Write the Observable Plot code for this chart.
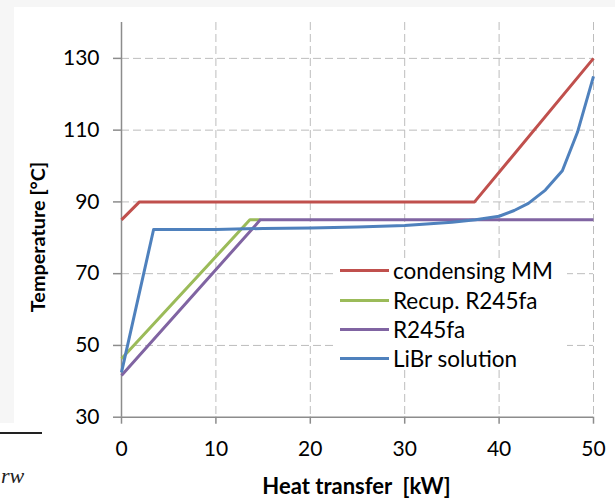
<!DOCTYPE html>
<html><head><meta charset="utf-8">
<script src="https://cdn.jsdelivr.net/npm/d3@7"></script>
<script src="https://cdn.jsdelivr.net/npm/@observablehq/plot@0.6"></script>
<style>
body{margin:0;background:#fff;}
#wrap{position:relative;width:615px;height:498px;overflow:hidden;font-family:Lato,sans-serif;color:#000;}
.bg-top{position:absolute;left:0;top:0;width:615px;height:7px;background:#f6f6f6;}
.bg-left{position:absolute;left:0;top:0;width:14px;height:423px;background:#f6f6f6;}
.hr{position:absolute;left:0;top:432px;width:42px;height:2px;background:#222;}
.frag{position:absolute;left:1px;top:463px;font:italic 22px "Liberation Serif",serif;color:#222;}
#chart{position:absolute;left:0;top:0;}
#chart svg [aria-label$="tick"]{stroke:#8c8c8c;stroke-width:1.5px;}
.legend{position:absolute;left:337px;top:258px;width:230px;height:108px;background:#fff;}
.row{position:absolute;left:3px;height:29px;display:flex;align-items:center;font-size:22.5px;white-space:nowrap;}
.sw{width:49px;height:3px;margin-right:4px;}
.xtitle{position:absolute;left:0;width:713px;text-align:center;top:472px;font-weight:bold;font-size:22px;white-space:pre;}
.ytitle{position:absolute;left:-113px;top:224px;width:300px;height:26px;line-height:26px;text-align:center;transform:rotate(-90deg);transform-origin:50% 50%;font-weight:bold;font-size:19.8px;white-space:nowrap;}
</style></head>
<body>
<div id="wrap">
  <div class="bg-top"></div>
  <div class="bg-left"></div>
  <div class="hr"></div>
  <div class="frag">rw</div>
  <div id="chart"></div>
  <div class="legend" id="legend"></div>
  <div class="xtitle" id="xtitle"></div>
  <div class="ytitle" id="ytitle"></div>
</div>
<script>
// ---- data ----
const seriesNames = ["condensing MM", "Recup. R245fa", "R245fa", "LiBr solution"];
const seriesColors = ["#C0504D", "#9BBB59", "#8064A2", "#4F81BD"];

const heatMM = [0, 1.9, 37.4, 50];
const tempMM = [85, 90, 90, 130];

const heatRecup = [0, 13.6, 14.7];
const tempRecup = [46.3, 85, 85];

const heatR245 = [0, 14.7, 50];
const tempR245 = [41.6, 85, 85];

const heatLiBr = [0, 3.4, 10, 15, 20, 25, 30, 35, 37.5, 40, 41.6, 43.1, 44.9, 46.7, 48.3, 50];
const tempLiBr = [42.5, 82.3, 82.3, 82.6, 82.7, 83.0, 83.4, 84.3, 85.0, 86.0, 87.6, 89.6, 93.3, 98.7, 109.4, 125];

const xTicks = [0, 10, 20, 30, 40, 50];
const yTicks = [30, 50, 70, 90, 110, 130];
const xTitle = "Heat transfer  [kW]";
const yTitle = "Temperature [°C]";

// ---- build ----
const heats = [heatMM, heatRecup, heatR245, heatLiBr];
const temps = [tempMM, tempRecup, tempR245, tempLiBr];
const rows = [];
heats.forEach((h, s) => h.forEach((x, i) => rows.push({series: seriesNames[s], heat: x, temp: temps[s][i]})));

const gridStyle = {stroke: "#bdbdbd", strokeWidth: 1, strokeDasharray: "8,4"};
const plot = Plot.plot({
  width: 615,
  height: 498,
  marginLeft: 121,
  marginRight: 22,
  marginTop: 22,
  marginBottom: 81.3,
  style: {fontFamily: "Lato, sans-serif", fontSize: "21px", background: "transparent", color: "#000", overflow: "visible"},
  x: {domain: [0, 50], ticks: xTicks, tickSize: 7, tickPadding: 17, label: null},
  y: {domain: [30, 140], ticks: yTicks, tickSize: 8, tickPadding: 14, label: null},
  color: {domain: seriesNames, range: seriesColors},
  marks: [
    Plot.ruleY(yTicks.filter(d => d > 30), gridStyle),
    Plot.ruleX(xTicks.filter(d => d > 0), gridStyle),
    Plot.ruleX([xTicks[0]], {stroke: "#8c8c8c", strokeWidth: 1.5}),
    Plot.ruleY([yTicks[0]], {stroke: "#8c8c8c", strokeWidth: 1.5}),
    Plot.line(rows, {x: "heat", y: "temp", z: "series", stroke: "series", strokeWidth: 3, strokeLinejoin: "round", strokeLinecap: "butt"})
  ]
});
document.getElementById("chart").appendChild(plot);

// legend
const rowCenters = [270, 300, 329, 358];
const leg = document.getElementById("legend");
seriesNames.forEach((n, i) => {
  const r = document.createElement("div");
  r.className = "row";
  r.style.top = (rowCenters[i] - 14.5 - 258) + "px";
  const sw = document.createElement("div");
  sw.className = "sw";
  sw.style.background = seriesColors[i];
  const t = document.createElement("span");
  t.textContent = n;
  r.appendChild(sw); r.appendChild(t);
  leg.appendChild(r);
});
document.getElementById("xtitle").textContent = xTitle;
document.getElementById("ytitle").textContent = yTitle;
</script>
</body></html>
